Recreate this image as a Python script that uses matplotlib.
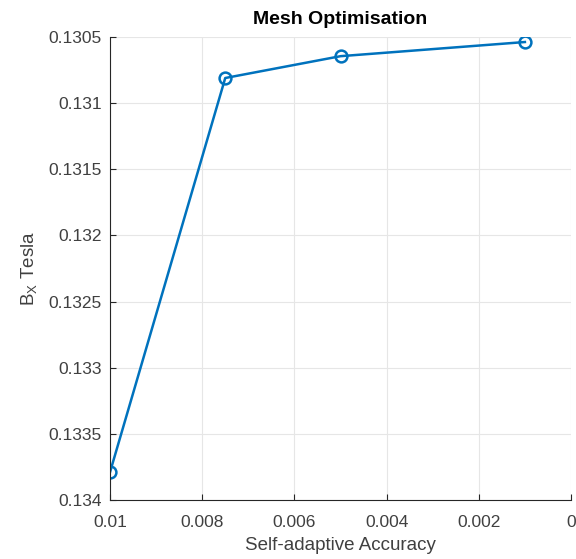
import matplotlib
matplotlib.use('Agg')
import matplotlib.pyplot as plt

# Data
accuracy = [0.01, 0.0075, 0.005, 0.001]
bx_tesla = [0.13379, 0.13081, 0.130645, 0.130538]

x_ticks = [0.01, 0.008, 0.006, 0.004, 0.002, 0]
x_labels = ['0.01', '0.008', '0.006', '0.004', '0.002', '0']
y_ticks = [0.1305, 0.131, 0.1315, 0.132, 0.1325, 0.133, 0.1335, 0.134]
y_labels = ['0.1305', '0.131', '0.1315', '0.132', '0.1325', '0.133', '0.1335', '0.134']

plt.rcParams['font.family'] = ['Liberation Sans', 'DejaVu Sans']

fig = plt.figure(figsize=(5.76, 5.59), dpi=100)
ax = fig.add_axes([110 / 576, 1 - 500 / 559, 461 / 576, 463 / 559])

ax.plot(accuracy, bx_tesla, color='#0072BD', linewidth=1.8, marker='o',
        markersize=8.5, markerfacecolor='none', markeredgewidth=1.8)

ax.set_xlim(0.01, 0)
ax.set_ylim(0.134, 0.1305)
ax.set_xticks(x_ticks)
ax.set_xticklabels(x_labels)
ax.set_yticks(y_ticks)
ax.set_yticklabels(y_labels)

ax.grid(True, color='#e6e6e6', linewidth=0.8)
ax.set_axisbelow(True)
ax.spines['top'].set_visible(False)
ax.spines['right'].set_visible(False)
ax.spines['left'].set_color('#262626')
ax.spines['bottom'].set_color('#262626')
ax.tick_params(direction='in', length=4, colors='#262626', labelsize=12.5,
               labelcolor='#404040')
ax.tick_params(axis='x', pad=11)
ax.tick_params(axis='y', pad=6)

ax.set_title('Mesh Optimisation', fontsize=14, fontweight='bold', pad=9)
ax.set_xlabel('Self-adaptive Accuracy', fontsize=13.5, color='#404040', labelpad=5)
ax.set_ylabel('B$_\\mathregular{X}$ Tesla', fontsize=13.5, color='#404040', labelpad=6)

fig.savefig('out.png', dpi=100)
